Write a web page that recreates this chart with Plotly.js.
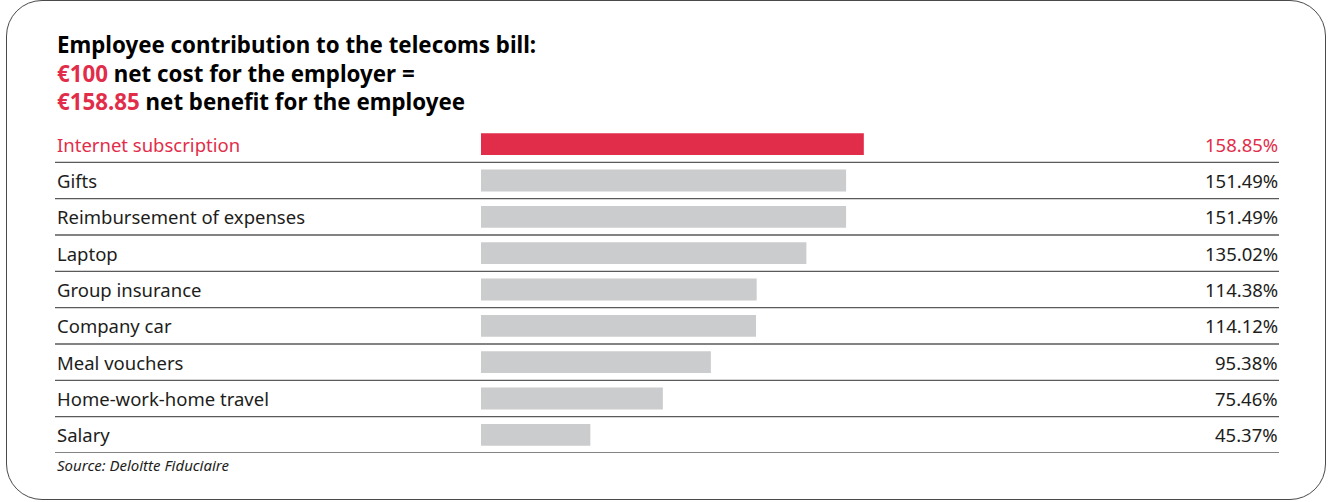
<!DOCTYPE html>
<html>
<head>
<meta charset="utf-8">
<script src="https://cdn.plot.ly/plotly-3.0.1.min.js"></script>
<style>
  html, body { margin: 0; padding: 0; background: #fff; }
  #frame { position: absolute; left: 6px; top: 0px; width: 1318px; height: 498px;
           border: 1.5px solid #4a4a4a; border-radius: 36px; box-sizing: content-box; }
  #chart { position: absolute; left: 0; top: 0; width: 1328px; height: 502px; }
</style>
</head>
<body>
<div id="frame"></div>
<div id="chart"></div>
<script>
const categories = ["Internet subscription", "Gifts", "Reimbursement of expenses", "Laptop",
  "Group insurance", "Company car", "Meal vouchers", "Home-work-home travel", "Salary"];
const values = [158.85, 151.49, 151.49, 135.02, 114.38, 114.12, 95.38, 75.46, 45.37];
const valueLabels = ["158.85%", "151.49%", "151.49%", "135.02%", "114.38%", "114.12%", "95.38%", "75.46%", "45.37%"];
const titleLines = [
  "Employee contribution to the telecoms bill:",
  "<span style='color:#E22D4A'>€100</span> net cost for the employer =",
  "<span style='color:#E22D4A'>€158.85</span> net benefit for the employee"
];
const sourceText = "Source: Deloitte Fiduciaire";

const RED = "#E22D4A", GRAY = "#CBCCCE", INK = "#1d1d1b";
const FONT = "Noto Sans, Open Sans, sans-serif";

const W = 1328, H = 502;
const mL = 55, mR = 49, mT = 126, mB = 49;
const plotW = W - mL - mR, plotH = H - mT - mB;
const zeroPx = 481, pxPerUnit = 2.41;
const xMin = -(zeroPx - mL) / pxPerUnit;
const xMax = (W - mR - zeroPx) / pxPerUnit;

const trace = {
  type: "bar", orientation: "h",
  x: values, y: categories,
  marker: { color: categories.map((c, i) => i === 0 ? RED : GRAY) },
  hoverinfo: "none"
};

const annotations = [];
categories.forEach((c, i) => {
  annotations.push({ xref: "paper", yref: "y", x: 0, y: c, text: c, showarrow: false,
    xanchor: "left", yanchor: "middle", xshift: 0,
    font: { family: FONT, size: 18.5, color: i === 0 ? RED : INK } });
  annotations.push({ xref: "paper", yref: "y", x: 1, y: c, text: valueLabels[i], showarrow: false,
    xanchor: "right", yanchor: "middle", xshift: 1,
    font: { family: FONT, size: 18.5, color: i === 0 ? RED : INK } });
});
const pyToPaper = py => (H - mB - py) / plotH;
const titleY = [45, 73, 101];
titleLines.forEach((t, i) => {
  annotations.push({ xref: "paper", yref: "paper", x: 0, y: pyToPaper(titleY[i]), text: "<b>" + t + "</b>",
    showarrow: false, xanchor: "left", yanchor: "middle",
    font: { family: FONT, size: 22.3, color: "#000" } });
});
annotations.push({ xref: "paper", yref: "paper", x: 0, y: pyToPaper(465), text: "<i>" + sourceText + "</i>",
  showarrow: false, xanchor: "left", yanchor: "middle",
  font: { family: FONT, size: 15, color: INK } });

const shapes = categories.map((c, i) => ({
  type: "line", xref: "paper", yref: "y", x0: 0, x1: 1, y0: i + 0.5, y1: i + 0.5,
  line: { color: "#5a5a5a", width: 1.3 }
}));

const layout = {
  width: W, height: H,
  margin: { l: mL, r: mR, t: mT, b: mB, pad: 0 },
  paper_bgcolor: "rgba(0,0,0,0)", plot_bgcolor: "rgba(0,0,0,0)",
  bargap: 0.4,
  showlegend: false,
  xaxis: { range: [xMin, xMax], visible: false, fixedrange: true },
  yaxis: { type: "category", range: [categories.length - 0.5, -0.5], visible: false, fixedrange: true },
  annotations: annotations,
  shapes: shapes
};

Plotly.newPlot("chart", [trace], layout, { displayModeBar: false, staticPlot: true });
</script>
</body>
</html>
